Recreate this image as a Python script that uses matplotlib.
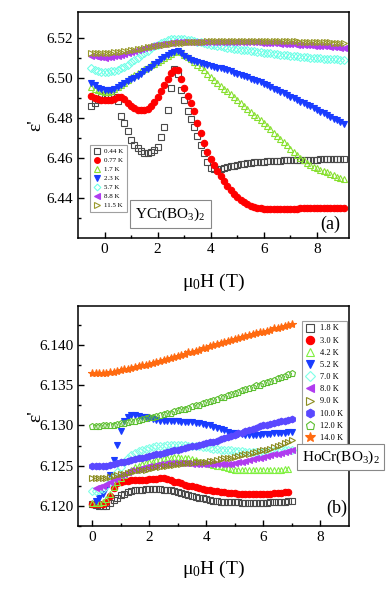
import numpy as np
import matplotlib
matplotlib.use("Agg")
import matplotlib.pyplot as plt
from matplotlib.ticker import FixedLocator, FormatStrFormatter

plt.rcParams['font.family'] = ['Liberation Serif', 'DejaVu Serif']
plt.rcParams['mathtext.fontset'] = 'custom'
plt.rcParams['mathtext.rm'] = 'Liberation Serif'
plt.rcParams['mathtext.it'] = 'Liberation Serif:italic'

# ---- panel (a): YCr(BO3)2 ----
field_a = [-0.5, -0.375, -0.25, -0.125, 0.0, 0.125, 0.25, 0.375,
           0.5, 0.625, 0.75, 0.875, 1.0, 1.125, 1.25, 1.375,
           1.5, 1.625, 1.75, 1.875, 2.0, 2.125, 2.25, 2.375,
           2.5, 2.625, 2.75, 2.875, 3.0, 3.125, 3.25, 3.375,
           3.5, 3.625, 3.75, 3.875, 4.0, 4.125, 4.25, 4.375,
           4.5, 4.625, 4.75, 4.875, 5.0, 5.125, 5.25, 5.375,
           5.5, 5.625, 5.75, 5.875, 6.0, 6.125, 6.25, 6.375,
           6.5, 6.625, 6.75, 6.875, 7.0, 7.125, 7.25, 7.375,
           7.5, 7.625, 7.75, 7.875, 8.0, 8.125, 8.25, 8.375,
           8.5, 8.625, 8.75, 8.875, 9.0]

eps_044 = [6.4860, 6.4875, 6.4890, 6.4905, 6.4912, 6.4914, 6.4913, 6.4905,
           6.4885, 6.4810, 6.4775, 6.4735, 6.4690, 6.4665, 6.4648, 6.4632,
           6.4622, 6.4622, 6.4628, 6.4638, 6.4655, 6.4705, 6.4755, 6.4840,
           6.4950, 6.5045, 6.5020, 6.4940, 6.4890, 6.4835, 6.4795, 6.4755,
           6.4708, 6.4665, 6.4622, 6.4580, 6.4550, 6.4545, 6.4544, 6.4546,
           6.4549, 6.4553, 6.4557, 6.4560, 6.4563, 6.4567, 6.4570, 6.4573,
           6.4575, 6.4577, 6.4579, 6.4580, 6.4581, 6.4582, 6.4583, 6.4584,
           6.4585, 6.4586, 6.4587, 6.4588, 6.4588, 6.4589, 6.4589, 6.4590,
           6.4590, 6.4590, 6.4591, 6.4591, 6.4591, 6.4592, 6.4592, 6.4592,
           6.4592, 6.4592, 6.4592, 6.4592, 6.4592]
eps_077 = [6.4908, 6.4900, 6.4893, 6.4889, 6.4887, 6.4887, 6.4889, 6.4896,
           6.4904, 6.4902, 6.4893, 6.4875, 6.4860, 6.4847, 6.4840, 6.4838,
           6.4840, 6.4846, 6.4858, 6.4878, 6.4903, 6.4935, 6.4965, 6.4995,
           6.5022, 6.5037, 6.5038, 6.4995, 6.4950, 6.4910, 6.4873, 6.4835,
           6.4775, 6.4722, 6.4675, 6.4630, 6.4592, 6.4562, 6.4535, 6.4508,
           6.4485, 6.4460, 6.4438, 6.4420, 6.4405, 6.4390, 6.4378, 6.4368,
           6.4360, 6.4354, 6.4350, 6.4347, 6.4345, 6.4344, 6.4344, 6.4344,
           6.4344, 6.4344, 6.4345, 6.4345, 6.4345, 6.4346, 6.4346, 6.4347,
           6.4347, 6.4348, 6.4348, 6.4349, 6.4349, 6.4350, 6.4350, 6.4350,
           6.4350, 6.4350, 6.4350, 6.4350, 6.4350]
eps_17 = [6.4955, 6.4945, 6.4938, 6.4932, 6.4930, 6.4931, 6.4935, 6.4942,
          6.4952, 6.4963, 6.4976, 6.4990, 6.5003, 6.5014, 6.5025, 6.5035,
          6.5045, 6.5054, 6.5063, 6.5071, 6.5080, 6.5090, 6.5100, 6.5110,
          6.5120, 6.5128, 6.5134, 6.5128, 6.5115, 6.5105, 6.5092, 6.5080,
          6.5066, 6.5052, 6.5038, 6.5020, 6.5002, 6.4988, 6.4974, 6.4960,
          6.4946, 6.4932, 6.4918, 6.4904, 6.4890, 6.4876, 6.4861, 6.4846,
          6.4831, 6.4816, 6.4802, 6.4788, 6.4774, 6.4758, 6.4742, 6.4726,
          6.4710, 6.4694, 6.4678, 6.4662, 6.4646, 6.4630, 6.4615, 6.4600,
          6.4587, 6.4575, 6.4565, 6.4556, 6.4548, 6.4541, 6.4534, 6.4527,
          6.4520, 6.4513, 6.4506, 6.4500, 6.4494]
eps_23 = [6.4975, 6.4962, 6.4950, 6.4942, 6.4938, 6.4937, 6.4940, 6.4946,
          6.4955, 6.4965, 6.4975, 6.4985, 6.4993, 6.5001, 6.5011, 6.5021,
          6.5032, 6.5044, 6.5056, 6.5068, 6.5080, 6.5092, 6.5104, 6.5114,
          6.5123, 6.5131, 6.5136, 6.5125, 6.5108, 6.5098, 6.5090, 6.5083,
          6.5077, 6.5072, 6.5067, 6.5063, 6.5059, 6.5055, 6.5051, 6.5047,
          6.5042, 6.5037, 6.5032, 6.5026, 6.5020, 6.5014, 6.5008, 6.5002,
          6.4996, 6.4990, 6.4983, 6.4977, 6.4970, 6.4962, 6.4954, 6.4946,
          6.4938, 6.4930, 6.4922, 6.4913, 6.4905, 6.4897, 6.4889, 6.4881,
          6.4873, 6.4865, 6.4857, 6.4849, 6.4840, 6.4831, 6.4822, 6.4813,
          6.4804, 6.4796, 6.4787, 6.4778, 6.4770]
eps_57 = [6.5047, 6.5040, 6.5035, 6.5031, 6.5030, 6.5030, 6.5032, 6.5035,
          6.5040, 6.5047, 6.5055, 6.5066, 6.5077, 6.5088, 6.5100, 6.5112,
          6.5124, 6.5136, 6.5147, 6.5157, 6.5166, 6.5174, 6.5181, 6.5187,
          6.5192, 6.5195, 6.5196, 6.5195, 6.5193, 6.5190, 6.5187, 6.5184,
          6.5181, 6.5178, 6.5174, 6.5170, 6.5166, 6.5163, 6.5160, 6.5157,
          6.5154, 6.5151, 6.5148, 6.5145, 6.5143, 6.5141, 6.5139, 6.5137,
          6.5135, 6.5132, 6.5130, 6.5128, 6.5126, 6.5124, 6.5122, 6.5120,
          6.5118, 6.5116, 6.5114, 6.5113, 6.5111, 6.5109, 6.5107, 6.5105,
          6.5104, 6.5102, 6.5101, 6.5099, 6.5098, 6.5097, 6.5096, 6.5095,
          6.5094, 6.5093, 6.5092, 6.5091, 6.5090]
eps_88 = [6.5110, 6.5107, 6.5104, 6.5102, 6.5101, 6.5102, 6.5104, 6.5107,
          6.5111, 6.5116, 6.5121, 6.5126, 6.5131, 6.5136, 6.5141, 6.5146,
          6.5150, 6.5154, 6.5158, 6.5162, 6.5165, 6.5168, 6.5171, 6.5173,
          6.5175, 6.5177, 6.5178, 6.5179, 6.5180, 6.5181, 6.5181, 6.5181,
          6.5181, 6.5181, 6.5181, 6.5181, 6.5181, 6.5181, 6.5181, 6.5181,
          6.5181, 6.5180, 6.5180, 6.5180, 6.5180, 6.5180, 6.5180, 6.5180,
          6.5180, 6.5178, 6.5177, 6.5176, 6.5175, 6.5174, 6.5174, 6.5173,
          6.5172, 6.5171, 6.5170, 6.5169, 6.5168, 6.5167, 6.5166, 6.5165,
          6.5164, 6.5163, 6.5162, 6.5161, 6.5160, 6.5159, 6.5158, 6.5157,
          6.5156, 6.5154, 6.5152, 6.5150, 6.5148]
eps_115 = [6.5124, 6.5124, 6.5124, 6.5124, 6.5124, 6.5125, 6.5126, 6.5127,
           6.5128, 6.5130, 6.5132, 6.5134, 6.5137, 6.5140, 6.5143, 6.5146,
           6.5149, 6.5152, 6.5155, 6.5158, 6.5161, 6.5164, 6.5166, 6.5168,
           6.5170, 6.5172, 6.5174, 6.5175, 6.5176, 6.5177, 6.5178, 6.5179,
           6.5180, 6.5181, 6.5181, 6.5182, 6.5182, 6.5183, 6.5183, 6.5183,
           6.5183, 6.5183, 6.5183, 6.5183, 6.5183, 6.5184, 6.5184, 6.5184,
           6.5184, 6.5184, 6.5184, 6.5184, 6.5184, 6.5184, 6.5184, 6.5184,
           6.5184, 6.5184, 6.5184, 6.5183, 6.5183, 6.5182, 6.5182, 6.5181,
           6.5181, 6.5180, 6.5180, 6.5179, 6.5179, 6.5178, 6.5178, 6.5177,
           6.5177, 6.5176, 6.5176, 6.5175, 6.5175]

labels_a = ['0.44 K', '0.77 K', '1.7 K', '2.3 K', '5.7 K', '8.8 K', '11.5 K']

# ---- panel (b): HoCr(BO3)2 ----
field_b = [0.0, 0.125, 0.25, 0.375, 0.5, 0.625, 0.75, 0.875,
           1.0, 1.125, 1.25, 1.375, 1.5, 1.625, 1.75, 1.875,
           2.0, 2.125, 2.25, 2.375, 2.5, 2.625, 2.75, 2.875,
           3.0, 3.125, 3.25, 3.375, 3.5, 3.625, 3.75, 3.875,
           4.0, 4.125, 4.25, 4.375, 4.5, 4.625, 4.75, 4.875,
           5.0, 5.125, 5.25, 5.375, 5.5, 5.625, 5.75, 5.875,
           6.0, 6.125, 6.25, 6.375, 6.5, 6.625, 6.75, 6.875,
           7.0]
nan = float('nan')

eps_18 = [6.1202, 6.1201, 6.1200, 6.1199, 6.1200, 6.1203, 6.1207, 6.1210,
          6.1213, 6.1215, 6.1217, 6.1218, 6.1219, 6.1220, 6.1220, 6.1221,
          6.1221, 6.1221, 6.1221, 6.1221, 6.1220, 6.1220, 6.1219, 6.1218,
          6.1217, 6.1216, 6.1214, 6.1213, 6.1212, 6.1211, 6.1210, 6.1209,
          6.1208, 6.1207, 6.1206, 6.1206, 6.1205, 6.1205, 6.1204, 6.1204,
          6.1204, 6.1204, 6.1203, 6.1203, 6.1203, 6.1203, 6.1203, 6.1203,
          6.1203, 6.1203, 6.1204, 6.1204, 6.1204, 6.1205, 6.1205, 6.1206,
          6.1206]
eps_30 = [6.1202, 6.1202, 6.1202, 6.1202, 6.1204, 6.1212, 6.1222, 6.1228,
          6.1230, 6.1231, 6.1231, 6.1232, 6.1232, 6.1232, 6.1232, 6.1232,
          6.1233, 6.1233, 6.1233, 6.1234, 6.1234, 6.1233, 6.1232, 6.1230,
          6.1229, 6.1228, 6.1226, 6.1225, 6.1224, 6.1223, 6.1222, 6.1221,
          6.1220, 6.1219, 6.1218, 6.1218, 6.1217, 6.1217, 6.1216, 6.1216,
          6.1216, 6.1215, 6.1215, 6.1215, 6.1215, 6.1215, 6.1215, 6.1215,
          6.1215, 6.1215, 6.1215, 6.1216, 6.1216, 6.1216, 6.1217, 6.1217,
          nan]
eps_42 = [6.1203, 6.1203, 6.1203, 6.1204, 6.1208, 6.1215, 6.1223, 6.1229,
          6.1234, 6.1238, 6.1242, 6.1245, 6.1248, 6.1250, 6.1252, 6.1253,
          6.1254, 6.1255, 6.1257, 6.1258, 6.1259, 6.1260, 6.1260, 6.1261,
          6.1261, 6.1260, 6.1260, 6.1259, 6.1258, 6.1257, 6.1255, 6.1254,
          6.1253, 6.1252, 6.1251, 6.1250, 6.1249, 6.1248, 6.1247, 6.1246,
          6.1245, 6.1245, 6.1244, 6.1244, 6.1244, 6.1244, 6.1244, 6.1244,
          6.1244, 6.1244, 6.1244, 6.1245, 6.1245, 6.1245, 6.1246, 6.1246,
          nan]
eps_52 = [nan, 6.1206, 6.1209, 6.1214, 6.1222, 6.1238, 6.1257, 6.1276,
          6.1293, 6.1305, 6.1311, 6.1313, 6.1313, 6.1312, 6.1311, 6.1310,
          6.1309, 6.1308, 6.1307, 6.1306, 6.1306, 6.1305, 6.1305, 6.1305,
          6.1305, 6.1304, 6.1304, 6.1304, 6.1304, 6.1303, 6.1303, 6.1302,
          6.1301, 6.1300, 6.1298, 6.1297, 6.1295, 6.1294, 6.1292, 6.1291,
          6.1290, 6.1289, 6.1289, 6.1288, 6.1288, 6.1288, 6.1288, 6.1288,
          6.1289, 6.1289, 6.1289, 6.1290, 6.1290, 6.1291, 6.1291, 6.1292,
          6.1292]
eps_70 = [6.1218, 6.1218, 6.1219, 6.1221, 6.1225, 6.1230, 6.1236, 6.1242,
          6.1248, 6.1254, 6.1259, 6.1263, 6.1266, 6.1268, 6.1270, 6.1271,
          6.1272, 6.1273, 6.1274, 6.1275, 6.1275, 6.1276, 6.1276, 6.1276,
          6.1276, 6.1276, 6.1276, 6.1275, 6.1275, 6.1274, 6.1274, 6.1273,
          6.1273, 6.1272, 6.1271, 6.1271, 6.1270, 6.1270, 6.1269, 6.1269,
          6.1268, 6.1268, 6.1268, 6.1267, 6.1267, 6.1267, 6.1267, 6.1267,
          6.1267, 6.1267, 6.1268, 6.1268, 6.1268, 6.1269, 6.1269, 6.1270,
          6.1270]
eps_80 = [nan, 6.1222, 6.1223, 6.1225, 6.1227, 6.1230, 6.1233, 6.1236,
          6.1238, 6.1240, 6.1242, 6.1244, 6.1245, 6.1246, 6.1247, 6.1248,
          6.1249, 6.1250, 6.1251, 6.1252, 6.1252, 6.1253, 6.1253, 6.1253,
          6.1253, 6.1253, 6.1253, 6.1253, 6.1252, 6.1252, 6.1252, 6.1252,
          6.1252, 6.1252, 6.1252, 6.1252, 6.1252, 6.1252, 6.1252, 6.1252,
          6.1253, 6.1254, 6.1255, 6.1256, 6.1257, 6.1258, 6.1259, 6.1260,
          6.1261, 6.1262, 6.1263, 6.1264, 6.1265, 6.1266, 6.1267, 6.1268,
          6.1269]
eps_90 = [6.1234, 6.1234, 6.1234, 6.1235, 6.1235, 6.1236, 6.1237, 6.1238,
          6.1239, 6.1240, 6.1241, 6.1242, 6.1243, 6.1244, 6.1245, 6.1245,
          6.1246, 6.1247, 6.1248, 6.1248, 6.1249, 6.1250, 6.1251, 6.1251,
          6.1252, 6.1252, 6.1253, 6.1253, 6.1253, 6.1254, 6.1254, 6.1254,
          6.1255, 6.1256, 6.1256, 6.1257, 6.1258, 6.1259, 6.1259, 6.1260,
          6.1261, 6.1262, 6.1263, 6.1264, 6.1265, 6.1266, 6.1267, 6.1268,
          6.1269, 6.1270, 6.1271, 6.1273, 6.1274, 6.1276, 6.1278, 6.1280,
          6.1282]
eps_100 = [6.1249, 6.1249, 6.1249, 6.1250, 6.1250, 6.1251, 6.1252, 6.1253,
           6.1254, 6.1255, 6.1256, 6.1257, 6.1258, 6.1259, 6.1260, 6.1261,
           6.1262, 6.1263, 6.1264, 6.1265, 6.1266, 6.1267, 6.1268, 6.1269,
           6.1270, 6.1271, 6.1272, 6.1273, 6.1274, 6.1275, 6.1276, 6.1277,
           6.1278, 6.1279, 6.1280, 6.1281, 6.1283, 6.1284, 6.1285, 6.1287,
           6.1288, 6.1290, 6.1291, 6.1293, 6.1294, 6.1296, 6.1297, 6.1299,
           6.1300, 6.1301, 6.1302, 6.1303, 6.1304, 6.1305, 6.1306, 6.1307,
           6.1308]
eps_120 = [6.1299, 6.1299, 6.1299, 6.1300, 6.1300, 6.1301, 6.1301, 6.1302,
           6.1303, 6.1303, 6.1304, 6.1305, 6.1306, 6.1307, 6.1308, 6.1309,
           6.1310, 6.1311, 6.1312, 6.1313, 6.1314, 6.1315, 6.1316, 6.1318,
           6.1319, 6.1320, 6.1321, 6.1322, 6.1324, 6.1325, 6.1326, 6.1328,
           6.1329, 6.1330, 6.1332, 6.1333, 6.1335, 6.1336, 6.1338, 6.1339,
           6.1341, 6.1342, 6.1344, 6.1345, 6.1347, 6.1348, 6.1350, 6.1351,
           6.1353, 6.1354, 6.1356, 6.1357, 6.1359, 6.1361, 6.1362, 6.1364,
           6.1366]
eps_140 = [6.1366, 6.1366, 6.1366, 6.1366, 6.1366, 6.1367, 6.1367, 6.1368,
           6.1369, 6.1370, 6.1371, 6.1372, 6.1373, 6.1374, 6.1375, 6.1376,
           6.1377, 6.1378, 6.1379, 6.1381, 6.1382, 6.1383, 6.1384, 6.1386,
           6.1387, 6.1388, 6.1389, 6.1391, 6.1392, 6.1393, 6.1394, 6.1396,
           6.1397, 6.1399, 6.1400, 6.1401, 6.1403, 6.1404, 6.1405, 6.1406,
           6.1408, 6.1409, 6.1410, 6.1411, 6.1413, 6.1414, 6.1415, 6.1416,
           6.1417, 6.1418, 6.1419, 6.1421, 6.1422, 6.1423, 6.1424, 6.1425,
           6.1427]

labels_b = ['1.8 K', '3.0 K', '4.2 K', '5.2 K', '7.0 K', '8.0 K', '9.0 K',
            '10.0 K', '12.0 K', '14.0 K']

# marker styles: (marker, colour, filled, size)
styles_a = [('s', '#4a4a4a', False, 4.3), ('o', '#ff0000', True, 4.6),
            ('^', '#88e030', False, 4.6), ('v', '#1a3cff', True, 4.6),
            ('D', '#70ffe8', False, 3.8), ('<', '#b03cf0', True, 4.6),
            ('>', '#9a9a2c', False, 4.6)]
styles_b = [('s', '#4a4a4a', False, 4.3), ('o', '#ff0000', True, 4.6),
            ('^', '#80f040', False, 4.8), ('v', '#1a3cff', True, 4.8),
            ('D', '#80ffe8', False, 3.8), ('<', '#b03cf0', True, 4.8),
            ('>', '#8c8c20', False, 4.8), ('h', '#5a48ff', True, 4.8),
            ('p', '#5cbf30', False, 4.8), ('*', '#ff6a10', True, 6.0)]


def draw(ax, x, series, labels, styles):
    for y, lab, (m, c, filled, ms) in zip(series, labels, styles):
        ax.plot(x, y, linestyle='none', marker=m, ms=ms, mec=c,
                mfc=c if filled else 'none', mew=0.8, label=lab)


def style_axes(ax):
    for s in ax.spines.values():
        s.set_linewidth(1.1)
    ax.tick_params(which='both', direction='in', top=False, right=False,
                   labelsize=11, width=1.0)
    ax.tick_params(which='major', length=4.5)
    ax.tick_params(which='minor', length=2.5)
    ax.set_xlabel('μ$\\mathregular{_0}$H (T)', fontsize=14)
    ax.set_ylabel("ε'", fontsize=14)
    ax.xaxis.set_label_coords(0.5, -0.15)
    ax.yaxis.set_label_coords(-0.125, 0.5)


fig = plt.figure(figsize=(3.88, 5.93), dpi=100)
ax1 = fig.add_axes([0.201, 0.599, 0.698, 0.381])
ax2 = fig.add_axes([0.201, 0.1135, 0.698, 0.3705])

draw(ax1, field_a, [eps_044, eps_077, eps_17, eps_23, eps_57, eps_88, eps_115],
     labels_a, styles_a)
ax1.set_xlim(-1.0, 9.2)
ax1.set_ylim(6.42, 6.533)
ax1.xaxis.set_major_locator(FixedLocator([0, 2, 4, 6, 8]))
ax1.xaxis.set_minor_locator(FixedLocator([1, 3, 5, 7]))
ax1.yaxis.set_major_locator(FixedLocator([6.44, 6.46, 6.48, 6.50, 6.52]))
ax1.yaxis.set_minor_locator(FixedLocator([6.43, 6.45, 6.47, 6.49, 6.51]))
ax1.yaxis.set_major_formatter(FormatStrFormatter('%.2f'))
style_axes(ax1)
leg1 = ax1.legend(loc='lower left', bbox_to_anchor=(0.03, 0.10), fontsize=5,
                  frameon=True, fancybox=False, edgecolor='#888888',
                  handlelength=1.0, handletextpad=0.6, labelspacing=0.45,
                  borderpad=0.5, markerscale=0.9)
leg1.get_frame().set_linewidth(0.8)
ax1.text(0.34, 0.105, 'YCr(BO$\\mathregular{_3}$)$\\mathregular{_2}$',
         transform=ax1.transAxes, ha='center', va='center', fontsize=11,
         bbox=dict(boxstyle='square,pad=0.35', fc='white', ec='#888888', lw=0.8))
ax1.text(0.93, 0.06, '(a)', transform=ax1.transAxes, ha='center',
         va='center', fontsize=13)

draw(ax2, field_b, [eps_18, eps_30, eps_42, eps_52, eps_70, eps_80, eps_90,
                    eps_100, eps_120, eps_140], labels_b, styles_b)
ax2.set_xlim(-0.5, 9.0)
ax2.set_ylim(6.1175, 6.1449)
ax2.xaxis.set_major_locator(FixedLocator([0, 2, 4, 6, 8]))
ax2.xaxis.set_minor_locator(FixedLocator([1, 3, 5, 7]))
ax2.yaxis.set_major_locator(FixedLocator([6.120, 6.125, 6.130, 6.135, 6.140]))
ax2.yaxis.set_minor_locator(FixedLocator([6.1175, 6.1225, 6.1275, 6.1325,
                                          6.1375, 6.1425]))
ax2.yaxis.set_major_formatter(FormatStrFormatter('%.3f'))
style_axes(ax2)
leg2 = ax2.legend(loc='upper left', bbox_to_anchor=(0.812, 0.95), fontsize=6,
                  frameon=True, fancybox=False, edgecolor='#888888',
                  handlelength=1.0, handletextpad=0.8, labelspacing=0.5,
                  borderpad=0.4, markerscale=1.3)
leg2.get_frame().set_linewidth(0.8)
ax2.text(0.97, 0.313, 'HoCr(BO$\\mathregular{_3}$)$\\mathregular{_2}$',
         transform=ax2.transAxes, ha='center', va='center', fontsize=11,
         bbox=dict(boxstyle='square,pad=0.3', fc='white', ec='#888888', lw=0.8),
         clip_on=False, zorder=10)
ax2.text(0.955, 0.08, '(b)', transform=ax2.transAxes, ha='center',
         va='center', fontsize=13)

fig.savefig('out.png', dpi=100)
